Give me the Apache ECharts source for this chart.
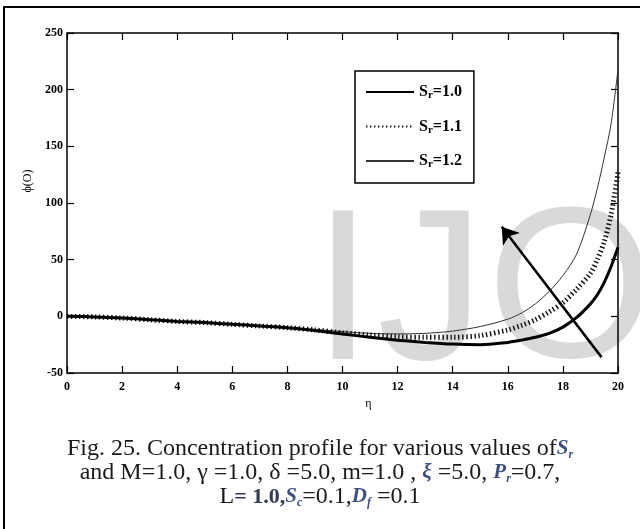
<!DOCTYPE html>
<html>
<head>
<meta charset="utf-8">
<script src="https://cdn.jsdelivr.net/npm/echarts@6/dist/echarts.min.js"></script>
<style>
  html, body { margin: 0; padding: 0; background: #fff; }
  #chart { width: 640px; height: 529px; }
</style>
</head>
<body>
<div id="chart"></div>
<script>
// Similarity variable η (denser sampling near the outer edge where the profiles rise)
const eta = [0, 1, 2, 3, 4, 5, 6, 7, 8, 9, 10, 11, 12, 13, 14, 15, 16, 16.5, 17, 17.5, 18, 18.5, 19, 19.25, 19.5, 19.75, 20];

// Concentration ϕ(η) for each Soret number
const phiSr10 = [0, -0.5, -1.5, -3, -4.5, -5.5, -7, -8.5, -10, -12.5, -15.5, -18.5, -21, -23, -24.5, -25, -23, -21, -18.5, -15, -9.5, -1, 11, 19, 30, 44, 61];
const phiSr11 = [0, -0.5, -1.5, -3, -4.5, -5.5, -7, -8.5, -10, -12, -14.5, -16.5, -18, -18.5, -18.5, -17, -12, -8, -3, 4, 12, 24, 38, 50, 66, 90, 127];
const phiSr12 = [0, -0.5, -1.5, -3, -4.5, -5.5, -7, -8.5, -10, -11.5, -13.5, -15, -15.5, -15, -13, -9, -2.5, 3, 11, 22, 36, 55, 90, 113, 140, 170, 218];

const seriesNames = ['Sr=1.0', 'Sr=1.1', 'Sr=1.2'];

// Trend arrow (direction of increasing Sr), in data units [η, ϕ]
const arrowFrom = [19.4, -36];
const arrowTo = [15.78, 79];

const xTickStep = 2;
const yTickStep = 50;

const zip = (xs, ys) => xs.map((x, i) => [x, ys[i]]);

const serif = '"Liberation Serif", "Times New Roman", serif';
const tickFont = { fontFamily: serif, fontWeight: 'bold', fontSize: 12, color: '#000' };

const chart = echarts.init(document.getElementById('chart'), null, { renderer: 'canvas' });

const subRich = {
  s: { fontFamily: serif, fontWeight: 'bold', fontSize: 16, lineHeight: 18, color: '#000' },
  r: { fontFamily: serif, fontWeight: 'bold', fontSize: 11, lineHeight: 11, verticalAlign: 'bottom', color: '#000' }
};

const capColor = '#1a1a1a';
const accent = '#3e4f80';
const capRich = {
  a: { fontFamily: serif, fontSize: 24, fontWeight: 'normal', lineHeight: 24, color: capColor },
  v: { fontFamily: serif, fontSize: 21, fontStyle: 'italic', fontWeight: 'bold', lineHeight: 24, color: accent },
  vs: { fontFamily: serif, fontSize: 12, fontStyle: 'italic', fontWeight: 'bold', lineHeight: 13, verticalAlign: 'bottom', color: accent },
  n: { fontFamily: serif, fontSize: 22, fontWeight: 'bold', lineHeight: 24, color: '#2f3a55' }
};

const caption =
  '{a|Fig. 25. Concentration profile for various values of}{v|S}{vs|r}\n' +
  '{a|and M=1.0, γ =1.0, δ =5.0, m=1.0 , }{v|ξ}{a| =5.0, }{v|P}{vs|r}{a|=0.7,}\n' +
  '{a|L}{n|= 1.0,}{v|S}{vs|c}{a|=0.1,}{v|D}{vs|f}{a| =0.1}';

const wmColor = '#d9d9d9';
const wmFont = 'normal 215px "Liberation Sans", Arial, sans-serif';

const axisLineStyle = { onZero: false, lineStyle: { color: '#000', width: 1.5 } };
const innerTick = { show: true, inside: true, length: 7, lineStyle: { color: '#000', width: 1.2 } };

const option = {
  animation: false,
  backgroundColor: '#fff',
  title: {
    text: caption,
    left: 'center',
    top: 432,
    textStyle: { rich: capRich, lineHeight: 24, fontWeight: 'normal' }
  },
  graphic: [
    { type: 'rect', z: -20, silent: true,
      shape: { x: 4, y: 7, width: 700, height: 600 },
      style: { fill: 'none', stroke: '#000', lineWidth: 2 } },
    { type: 'text', z: -10, silent: true, x: 313, y: 407,
      style: { text: 'I', font: wmFont, fill: wmColor, verticalAlign: 'bottom' } },
    { type: 'text', z: -10, silent: true, x: 377, y: 407,
      style: { text: 'J', font: wmFont, fill: wmColor, verticalAlign: 'bottom' } },
    { type: 'text', z: -10, silent: true, x: 487, y: 405,
      style: { text: 'O', font: wmFont, fill: wmColor, verticalAlign: 'bottom' } }
  ],
  legend: {
    data: seriesNames,
    orient: 'vertical',
    left: 355,
    top: 71,
    padding: [13, 12, 13, 10],
    itemWidth: 48,
    itemHeight: 14,
    itemGap: 17.5,
    backgroundColor: '#fff',
    borderColor: '#000',
    borderWidth: 1.5,
    borderRadius: 0,
    itemStyle: { opacity: 0, borderWidth: 0 },
    formatter: name => '{s|S}{r|r}{s|=' + name.slice(3) + '}',
    textStyle: { rich: subRich }
  },
  grid: { left: 67, right: 22, top: 33, bottom: 156, containLabel: false },
  xAxis: [
    {
      type: 'value', min: 0, max: 20, interval: xTickStep, position: 'bottom',
      name: 'η', nameLocation: 'middle', nameGap: 21,
      nameTextStyle: { fontFamily: serif, fontSize: 12, color: '#000', padding: [0, 0, 0, 52] },
      axisLine: axisLineStyle,
      axisTick: innerTick,
      axisLabel: Object.assign({ margin: 8 }, tickFont),
      splitLine: { show: false }
    },
    {
      type: 'value', min: 0, max: 20, interval: xTickStep, position: 'top',
      axisLine: axisLineStyle,
      axisTick: innerTick,
      axisLabel: { show: false },
      splitLine: { show: false }
    }
  ],
  yAxis: [
    {
      type: 'value', min: -50, max: 250, interval: yTickStep, position: 'left',
      name: 'ϕ(O)', nameLocation: 'middle', nameGap: 25, nameRotate: 90,
      nameTextStyle: { fontFamily: serif, fontSize: 12, color: '#000', padding: [0, 0, 0, 44] },
      axisLine: Object.assign({ show: true }, axisLineStyle),
      axisTick: innerTick,
      axisLabel: Object.assign({ margin: 4 }, tickFont),
      splitLine: { show: false }
    },
    {
      type: 'value', min: -50, max: 250, interval: yTickStep, position: 'right',
      axisLine: Object.assign({ show: true }, axisLineStyle),
      axisTick: innerTick,
      axisLabel: { show: false },
      splitLine: { show: false }
    }
  ],
  series: [
    {
      name: seriesNames[0], type: 'line', data: zip(eta, phiSr10),
      symbol: 'none', smooth: 0.3, z: 5,
      lineStyle: { color: '#000', width: 3 },
      itemStyle: { color: '#000' }
    },
    {
      name: seriesNames[1], type: 'line', data: zip(eta, phiSr11),
      symbol: 'none', smooth: 0.3, z: 4,
      lineStyle: { color: '#111', width: 5, type: [1.4, 2.6] },
      itemStyle: { color: '#111' }
    },
    {
      name: seriesNames[2], type: 'line', data: zip(eta, phiSr12),
      symbol: 'none', smooth: 0.3, z: 3,
      lineStyle: { color: '#333', width: 1 },
      itemStyle: { color: '#333' },
      markLine: {
        silent: true,
        symbol: ['none', 'arrow'],
        symbolSize: 16,
        label: { show: false },
        lineStyle: { color: '#000', width: 2.5, type: 'solid' },
        itemStyle: { color: '#000' },
        data: [[{ coord: arrowFrom }, { coord: arrowTo }]]
      }
    }
  ]
};

chart.setOption(option);
</script>
</body>
</html>
